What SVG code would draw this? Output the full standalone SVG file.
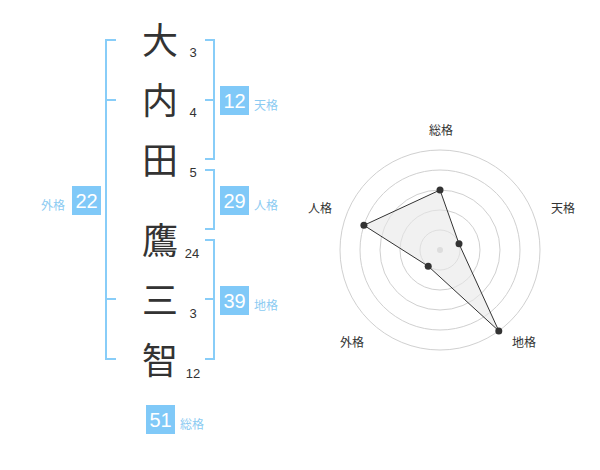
<svg xmlns="http://www.w3.org/2000/svg" width="600" height="470" viewBox="0 0 600 470">
<style>
.ch{font-family:"Noto Sans CJK JP","Noto Sans CJK SC",sans-serif;font-size:36px;fill:#333;text-anchor:middle}
.num{font-family:"Liberation Sans",Arial,sans-serif;font-size:13px;fill:#333;text-anchor:middle}
.br{fill:none;stroke:#88cdf8;stroke-width:2}
.box{fill:#80c9f8}
.bt{font-family:"Liberation Sans",Arial,sans-serif;font-size:20px;fill:#fff;text-anchor:middle}
.bl{font-family:"Noto Sans CJK JP","Noto Sans CJK SC",sans-serif;font-size:12px;fill:#8ccbf2}
.ring{fill:none;stroke:#d0d0d0;stroke-width:1}
.rl{font-family:"Noto Sans CJK JP","Noto Sans CJK SC",sans-serif;font-size:12px;fill:#333;text-anchor:middle}
.pt{fill:#333}
</style>
<rect width="600" height="470" fill="#fff"/>
<g id="name">
<g id="c1"><text class="ch" x="160" y="54">大</text><text class="num" x="193" y="57">3</text></g>
<g id="c2"><text class="ch" x="160" y="114">内</text><text class="num" x="193" y="117">4</text></g>
<g id="c3"><text class="ch" x="160" y="174">田</text><text class="num" x="193" y="177">5</text></g>
<g id="c4"><text class="ch" x="160" y="254">鷹</text><text class="num" x="192" y="258">24</text></g>
<g id="c5"><text class="ch" x="160" y="314">三</text><text class="num" x="193" y="318">3</text></g>
<g id="c6"><text class="ch" x="160" y="374">智</text><text class="num" x="193" y="378">12</text></g>
</g>
<g id="connectors">
<path class="br" d="M116,40 H106 V359 H116 M106,100 H116 M106,299 H116"/>
<path class="br" d="M205,40 H214 V159 H205 M214,100 H205"/>
<path class="br" d="M205,170 H214 V229 H205"/>
<path class="br" d="M205,240 H214 V359 H205 M214,299 H205"/>
</g>
<g id="tenkaku"><rect class="box" x="220" y="86" width="29" height="29"/><text class="bt" x="234.5" y="107.5">12</text><text class="bl" x="254" y="110">天格</text></g>
<g id="jinkaku"><rect class="box" x="220" y="186" width="29" height="29"/><text class="bt" x="234.5" y="207.5">29</text><text class="bl" x="254" y="210">人格</text></g>
<g id="chikaku"><rect class="box" x="220" y="286" width="29" height="29"/><text class="bt" x="234.5" y="307.5">39</text><text class="bl" x="254" y="310">地格</text></g>
<g id="gaikaku"><rect class="box" x="72" y="186" width="29" height="29"/><text class="bt" x="86.5" y="207.5">22</text><text class="bl" x="41" y="210">外格</text></g>
<g id="soukaku"><rect class="box" x="146" y="405" width="29" height="29"/><text class="bt" x="160.5" y="426.5">51</text><text class="bl" x="180" y="429">総格</text></g>
<g id="radar">
<circle class="ring" cx="440" cy="250" r="20"/>
<circle class="ring" cx="440" cy="250" r="40"/>
<circle class="ring" cx="440" cy="250" r="60"/>
<circle class="ring" cx="440" cy="250" r="80"/>
<circle class="ring" cx="440" cy="250" r="100"/>
<circle cx="440" cy="250" r="3" fill="#ccc"/>
<polygon points="440,190 459,243.8 498.8,330.9 428.2,266.2 363.9,225.3" fill="#e8e8e8" fill-opacity="0.6" stroke="#333" stroke-width="1"/>
<circle class="pt" cx="440" cy="190" r="3.5"/>
<circle class="pt" cx="459" cy="243.8" r="3.5"/>
<circle class="pt" cx="498.8" cy="330.9" r="3.5"/>
<circle class="pt" cx="428.2" cy="266.2" r="3.5"/>
<circle class="pt" cx="363.9" cy="225.3" r="3.5"/>
<text class="rl" x="441" y="135">総格</text>
<text class="rl" x="563" y="213">天格</text>
<text class="rl" x="320" y="213">人格</text>
<text class="rl" x="352" y="347">外格</text>
<text class="rl" x="524" y="347">地格</text>
</g>
</svg>
